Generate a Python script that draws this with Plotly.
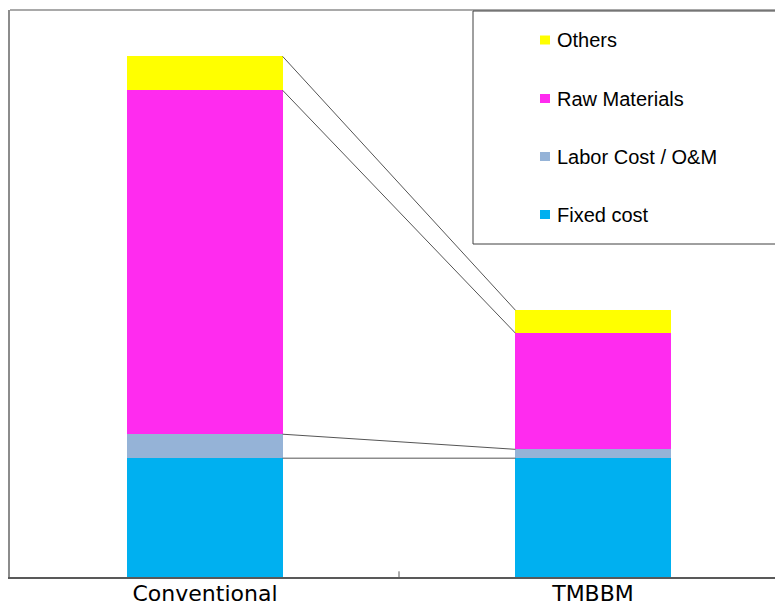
import plotly.graph_objects as go
import numpy as np

categories = ["Conventional", "TMBBM"]
series_names = ["Fixed cost", "Labor Cost / O&M", "Raw Materials", "Others"]
fixed_cost = [22.8, 22.8]
labor_cost = [4.6, 1.7]
raw_materials = [66.0, 22.3]
others = [6.5, 4.4]
colors = ["#00B0F0", "#95B3D7", "#FF2BEF", "#FFFF00"]

series = [fixed_cost, labor_cost, raw_materials, others]
BAR_W = 0.4

# plot-area geometry in page pixels (used for paper-coordinate layout items)
PX_L, PX_R, PX_T, PX_B = 10, 775, 10, 577
def px_x(px):
    return (px - PX_L) / (PX_R - PX_L)
def px_y(py):
    return (PX_B - py) / (PX_B - PX_T)

fig = go.Figure()
n = len(series)
for i, (name, vals, col) in enumerate(zip(series_names, series, colors)):
    fig.add_trace(go.Bar(
        x=[0, 1], y=vals, name=name, width=BAR_W,
        marker=dict(color=col, line=dict(width=0)),
        showlegend=False,
    ))

# connector lines between tops of stacked segments
cum = np.cumsum(np.array(series), axis=0)
shapes = []
for k in range(n):
    shapes.append(dict(type="line", xref="x", yref="y",
                       x0=0 + BAR_W / 2, y0=float(cum[k][0]),
                       x1=1 - BAR_W / 2, y1=float(cum[k][1]),
                       line=dict(color="#555555", width=1), layer="above"))
# top frame line
shapes.append(dict(type="line", xref="paper", yref="paper", x0=0, x1=1.02, y0=1, y1=1,
                   line=dict(color="#8c8c8c", width=1.5)))
# legend box
shapes.append(dict(type="rect", xref="paper", yref="paper", x0=px_x(473), x1=1.02,
                   y0=px_y(244), y1=px_y(11), line=dict(color="#404040", width=1),
                   fillcolor="rgba(0,0,0,0)"))
# midpoint tick between categories
shapes.append(dict(type="line", xref="x", yref="paper", x0=0.5, x1=0.5, y0=0, y1=0.01,
                   line=dict(color="#595959", width=1)))

# legend entries (top to bottom: Others, Raw Materials, Labor, Fixed)
legend_y = [214, 156, 98, 39.5]
annotations = []
for name, col, yc in zip(series_names, colors, legend_y):
    shapes.append(dict(type="rect", xref="paper", yref="paper",
                       x0=px_x(540), x1=px_x(550), y0=px_y(yc + 5), y1=px_y(yc - 4),
                       fillcolor=col, line=dict(width=0)))
    annotations.append(dict(xref="paper", yref="paper", x=px_x(554.5), y=px_y(yc + 1),
                            xanchor="left", yanchor="middle", text=name, showarrow=False,
                            font=dict(family="Liberation Sans, Arial", size=20, color="#000000")))

fig.update_layout(
    width=775, height=606,
    margin=dict(l=10, r=0, t=10, b=29),
    barmode="stack",
    plot_bgcolor="white", paper_bgcolor="white",
    bargap=0,
    shapes=shapes,
    annotations=annotations,
    showlegend=False,
    xaxis=dict(
        range=[-0.5026, 1.4691],
        tickmode="array", tickvals=[0, 1], ticktext=categories,
        showgrid=False, zeroline=False,
        showline=True, linecolor="#595959", linewidth=1.5,
        ticks="", automargin=False, ticklabelstandoff=-4,
        tickfont=dict(family="DejaVu Sans", size=22, color="#000000"),
        fixedrange=True,
    ),
    yaxis=dict(
        range=[0, 108.8], automargin=False,
        showgrid=False, zeroline=False, showticklabels=False,
        showline=True, linecolor="#8c8c8c", linewidth=1.5, ticks="",
    ),
)

fig.write_html(
    "out.html",
    config={"displayModeBar": False},
    post_script="document.body.style.margin='0px';document.body.style.overflow='hidden';",
)
